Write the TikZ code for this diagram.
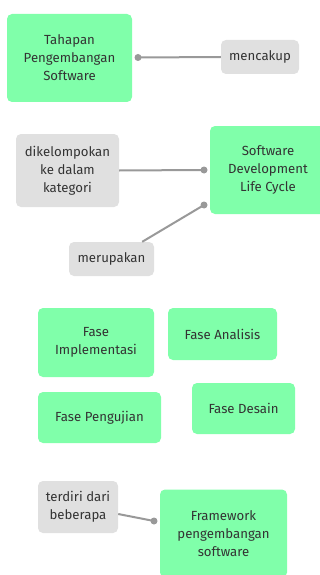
\documentclass[tikz,border=0pt]{standalone}
\usepackage{fontspec}
\setmainfont{Fira Sans}
\definecolor{boxgreen}{HTML}{80FFAA}
\definecolor{boxgray}{HTML}{E0E0E0}
\definecolor{linegray}{HTML}{999999}
\definecolor{txt}{HTML}{333333}
\begin{document}
\begin{tikzpicture}[x=1pt,y=-1pt,
  concept/.style={rectangle, rounded corners=5pt, fill=boxgreen, text=txt, align=center, inner sep=0pt, font=\fontsize{13.2}{18}\selectfont},
  linkbox/.style={rectangle, rounded corners=5pt, fill=boxgray, text=txt, align=center, inner sep=0pt, font=\fontsize{13.2}{18}\selectfont},
  conn/.style={draw=linegray, line width=2pt},
  dot/.style={circle, fill=linegray, inner sep=0pt, minimum size=7pt}]
\useasboundingbox (0,0) rectangle (320,575);
\fill[white] (0,0) rectangle (320,575);
% concepts
\node[concept, minimum width=125pt, minimum height=88pt] (tahapan) at (69.5,58) {Tahapan\\Pengembangan\\Software};
\node[concept, minimum width=116pt, minimum height=88pt] (sdlc) at (268,170) {Software\\Development\\Life Cycle};
\node[concept, minimum width=116pt, minimum height=69pt] (impl) at (96,342.5) {Fase\\Implementasi};
\node[concept, minimum width=109pt, minimum height=52pt] (anal) at (222.5,334) {Fase Analisis};
\node[concept, minimum width=123pt, minimum height=51pt] (uji) at (99.5,417.5) {Fase Pengujian};
\node[concept, minimum width=103pt, minimum height=51pt] (desain) at (243.5,408.5) {Fase Desain};
\node[concept, minimum width=127pt, minimum height=88pt] (frame) at (223.5,533.5) {Framework\\pengembangan\\software};
% linking phrases
\node[linkbox, minimum width=78pt, minimum height=34pt] (mencakup) at (260,57) {mencakup};
\node[linkbox, minimum width=103pt, minimum height=73pt] (dikel) at (67.5,170.5) {dikelompokan\\ke dalam\\kategori};
\node[linkbox, minimum width=85pt, minimum height=34pt] (merup) at (111.5,259) {merupakan};
\node[linkbox, minimum width=80pt, minimum height=52pt] (terdiri) at (78,507) {terdiri dari\\beberapa};
% connector end points
\coordinate (d1) at (138,57.5);
\coordinate (d2) at (204,170);
\coordinate (d3) at (204,205);
\coordinate (d4) at (154,521);
\draw[conn] (mencakup.west) -- (d1);
\draw[conn] (dikel.east) -- (d2);
\draw[conn] (merup.north east) ++(-12,0) coordinate (m0) -- (d3);
\draw[conn] (terdiri.east) ++(0,7) coordinate (t0) -- (d4);
\node[dot] at (d1) {};
\node[dot] at (d2) {};
\node[dot] at (d3) {};
\node[dot] at (d4) {};
\end{tikzpicture}
\end{document}
